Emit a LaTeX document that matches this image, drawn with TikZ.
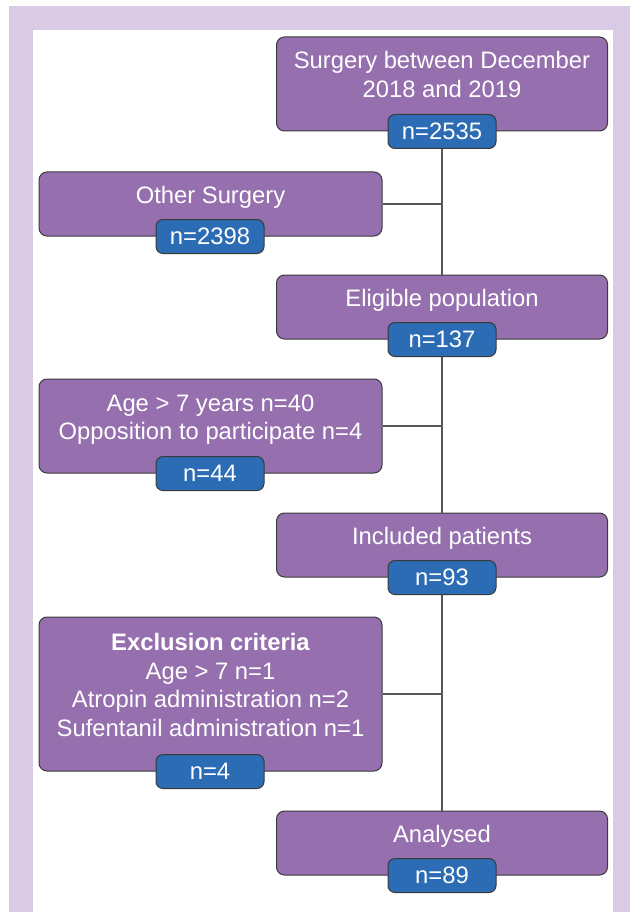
\documentclass[tikz,border=0pt]{standalone}
\usepackage{fontspec}
\setmainfont{Liberation Sans}
\usetikzlibrary{positioning}
\definecolor{framelilac}{HTML}{D8CBE3}
\definecolor{boxpurple}{HTML}{9670AE}
\definecolor{countblue}{HTML}{2B6CB4}
\definecolor{edgegray}{HTML}{3A3A3A}
\def\boxfont{\fontsize{23.8}{28.5}\selectfont}

\begin{document}
\begin{tikzpicture}[x=1pt,y=-1pt,
    stage node/.style={draw=edgegray,fill=boxpurple,rounded corners=8pt,line width=1pt,
                       minimum width=331pt,minimum height=64pt,inner sep=0pt},
    drop node/.style={stage node,minimum width=343pt},
    count node/.style={draw=edgegray,fill=countblue,text=white,rounded corners=7pt,line width=1pt,
                       minimum width=108pt,minimum height=34pt,inner sep=0pt,font=\boxfont},
    caption node/.style={text=white,align=center,inner sep=0pt,anchor=north,font=\boxfont},
    link/.style={draw=edgegray!85,line width=1.1pt}]

  % frame
  \useasboundingbox (0,0) rectangle (630,912);
  \fill[white] (0,0) rectangle (630,912);
  \fill[framelilac] (9,6) rectangle (630,912);
  \fill[white] (33,30) rectangle (613,912);

  % main column
  \node[stage node,minimum height=94pt] (surgery) at (442,84) {};
  \node[caption node] (surgery text) at ([yshift=-15pt]surgery.north) {Surgery between December\\2018 and 2019};
  \node[count node] (n surgery) at (surgery.south) {n=2535};

  \node[stage node] (eligible) at (442,307) {};
  \node[caption node] (eligible text) at ([yshift=-15pt]eligible.north) {Eligible population};
  \node[count node] (n eligible) at (eligible.south) {n=137};

  \node[stage node] (included) at (442,545) {};
  \node[caption node] (included text) at ([yshift=-15pt]included.north) {Included patients};
  \node[count node] (n included) at (included.south) {n=93};

  \node[stage node] (analysed) at (442,843) {};
  \node[caption node] (analysed text) at ([yshift=-15pt]analysed.north) {Analysed};
  \node[count node] (n analysed) at (analysed.south) {n=89};

  % side boxes
  \node[drop node] (other) at (210.5,204) {};
  \node[caption node] (other text) at ([yshift=-15pt]other.north) {Other Surgery};
  \node[count node] (n other) at ([xshift=-0.5pt]other.south) {n=2398};

  \node[drop node,minimum height=94pt] (refused) at (210.5,426) {};
  \node[caption node] (refused text) at ([yshift=-16pt]refused.north) {Age > 7 years n=40\\Opposition to participate n=4};
  \node[count node] (n refused) at ([xshift=-0.5pt]refused.south) {n=44};

  \node[drop node,minimum height=154pt] (excluded) at (210.5,694) {};
  \node[caption node] (excluded text) at ([yshift=-17pt]excluded.north) {\textbf{Exclusion criteria}\\Age > 7 n=1\\Atropin administration n=2\\Sufentanil administration n=1};
  \node[count node] (n excluded) at ([xshift=-0.5pt]excluded.south) {n=4};

  % connectors
  \draw[link] (n surgery) -- (eligible);
  \draw[link] (n eligible) -- (included);
  \draw[link] (n included) -- (analysed);
  \draw[link] (other.east) -- (other.east -| n surgery.south);
  \draw[link] (refused.east) -- (refused.east -| n eligible.south);
  \draw[link] (excluded.east) -- (excluded.east -| n included.south);
\end{tikzpicture}
\end{document}
